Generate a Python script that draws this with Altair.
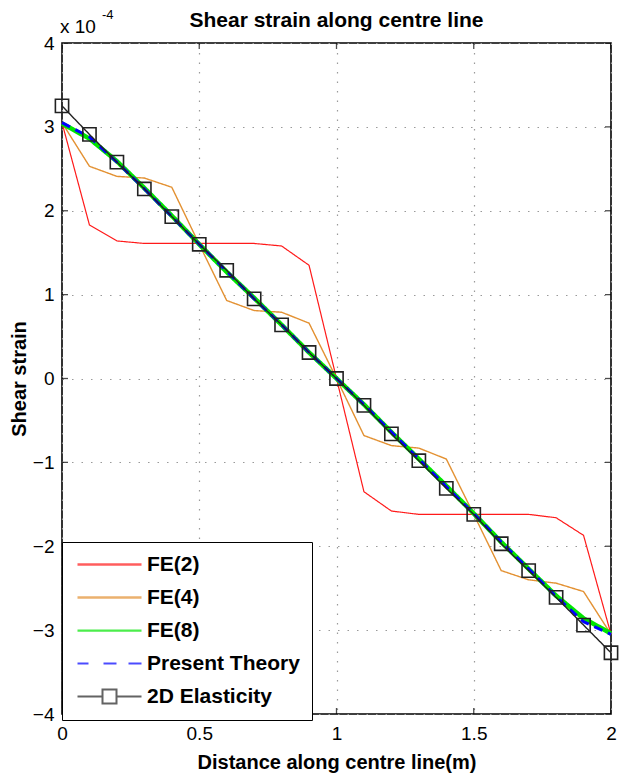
import altair as alt
import pandas as pd

FONT = "Liberation Sans, Arial, Helvetica, sans-serif"

# Positions along the centre line (m)
distance = [0.0, 0.1, 0.2, 0.3, 0.4, 0.5, 0.6, 0.7, 0.8, 0.9, 1.0,
            1.1, 1.2, 1.3, 1.4, 1.5, 1.6, 1.7, 1.8, 1.9, 2.0]

# Shear strain (x 1e-4) for each solution
fe2 = [3.05, 1.83, 1.64, 1.61, 1.61, 1.61, 1.61, 1.61, 1.58, 1.35, 0.0,
       -1.35, -1.58, -1.62, -1.62, -1.62, -1.62, -1.62, -1.66, -1.87, -3.05]
fe4 = [3.05, 2.53, 2.41, 2.39, 2.28, 1.60, 0.93, 0.81, 0.79, 0.66, 0.0,
       -0.68, -0.80, -0.83, -0.96, -1.62, -2.29, -2.40, -2.44, -2.54, -3.05]
fe8 = [3.04, 2.86, 2.59, 2.27, 1.94, 1.60, 1.27, 0.96, 0.64, 0.31, 0.0,
       -0.31, -0.64, -0.96, -1.28, -1.61, -1.95, -2.27, -2.59, -2.86, -3.04]
present = [3.05, 2.88, 2.58, 2.26, 1.93, 1.60, 1.28, 0.95, 0.64, 0.31, 0.0,
           -0.31, -0.64, -0.96, -1.29, -1.61, -1.95, -2.27, -2.60, -2.90, -3.05]
elasticity = [3.25, 2.91, 2.58, 2.26, 1.93, 1.60, 1.29, 0.95, 0.64, 0.31, 0.0,
              -0.32, -0.66, -0.98, -1.31, -1.62, -1.97, -2.29, -2.61, -2.94, -3.27]

series_names = ["FE(2)", "FE(4)", "FE(8)", "Present Theory", "2D Elasticity"]
series_values = [fe2, fe4, fe8, present, elasticity]
series_colors = ["#ff1a1a", "#e39132", "#00e600", "#0000ff", "#222222"]
series_widths = [1.2, 1.4, 4.6, 3.0, 1.4]
legend_widths = [2.5, 2.0, 4.0, 3.5, 2.0]

# Legend glyphs as unit-space paths: plain line, dashed line, line with square
line_path = "M-6.4,0H6.4"
dash_path = "M-6.4,0H-4.2M-1.2,0H1.4M3.8,0H6.4"
square_path = "M-6.4,0H-1.4M1.4,0H6.4M-1.4,-1.4H1.4V1.4H-1.4Z"
legend_paths = [line_path, line_path, line_path, dash_path, square_path]

x_ticks = [0, 0.5, 1, 1.5, 2]
y_ticks = [-4, -3, -2, -1, 0, 1, 2, 3, 4]

rows = []
for name, vals in zip(series_names, series_values):
    for d, v in zip(distance, vals):
        rows.append({"series": name, "distance": d, "strain": v})
df = pd.DataFrame(rows)

x_scale = alt.Scale(domain=[0, 2], nice=False, zero=False)
y_scale = alt.Scale(domain=[-4, 4], nice=False, zero=False)

x_enc = alt.X("distance:Q", scale=x_scale,
              axis=alt.Axis(values=x_ticks, title="Distance along centre line(m)",
                            format="~g"))
y_enc = alt.Y("strain:Q", scale=y_scale,
              axis=alt.Axis(values=y_ticks, title="Shear strain", format="d"))

base = alt.Chart(df)

layers = []
for name, color, width in zip(series_names, series_colors, series_widths):
    dash = [9, 6] if name == "Present Theory" else [1, 0]
    layers.append(
        base.transform_filter(alt.datum.series == name)
        .mark_line(color=color, strokeWidth=width, strokeDash=dash)
        .encode(x=x_enc, y=y_enc, order="distance:Q")
    )

squares = (
    base.transform_filter(alt.datum.series == "2D Elasticity")
    .mark_point(shape="square", filled=False, size=175, strokeWidth=1.6,
                color="#222222", opacity=1)
    .encode(x=x_enc, y=y_enc)
)

# Legend entries: rows without positions, only drive the legend scales
legend_df = pd.DataFrame({"series": series_names,
                          "distance": [None] * 5, "strain": [None] * 5})
legend_layer = (
    alt.Chart(legend_df)
    .mark_point(filled=False)
    .encode(
        x=alt.X("distance:Q", scale=x_scale),
        y=alt.Y("strain:Q", scale=y_scale),
        shape=alt.Shape("series:N",
                        scale=alt.Scale(domain=series_names, range=legend_paths),
                        legend=alt.Legend(
                            title=None, orient="none", legendX=0, legendY=499,
                            labelFont=FONT, labelFontSize=21, labelFontWeight="bold",
                            labelColor="black", symbolSize=100, symbolOffset=25,
                            labelOffset=27, padding=12, rowPadding=11,
                            strokeColor="black", fillColor="white",
                            cornerRadius=0, labelLimit=400)),
        stroke=alt.Stroke("series:N",
                          scale=alt.Scale(domain=series_names, range=series_colors)),
        strokeWidth=alt.StrokeWidth("series:N",
                                    scale=alt.Scale(domain=series_names,
                                                    range=legend_widths)),
    )
)

# Inward tick marks on all four sides of the frame
tick_x_df = pd.DataFrame({"distance": x_ticks})
tick_y_df = pd.DataFrame({"strain": y_ticks})
ticks = []
for yv in (-4, 4):
    ticks.append(alt.Chart(tick_x_df).mark_tick(orient="vertical", size=12,
                                                thickness=1.3, color="black", clip=True)
                 .encode(x=alt.X("distance:Q", scale=x_scale), y=alt.datum(yv)))
for xv in (0, 2):
    ticks.append(alt.Chart(tick_y_df).mark_tick(orient="horizontal", size=12,
                                                thickness=1.3, color="black", clip=True)
                 .encode(y=alt.Y("strain:Q", scale=y_scale), x=alt.datum(xv)))

# Title and axis multiplier above the frame
one = pd.DataFrame({"k": [0]})
title = alt.Chart(one).mark_text(text="Shear strain along centre line", font=FONT,
                                 fontSize=21, fontWeight="bold", align="center",
                                 baseline="alphabetic", color="black").encode(
    x=alt.value(274.5), y=alt.value(-16))
mult = alt.Chart(one).mark_text(text="x 10", font=FONT, fontSize=19, align="left",
                                baseline="alphabetic", color="black").encode(
    x=alt.value(-2), y=alt.value(-10))
mult_exp = alt.Chart(one).mark_text(text="-4", font=FONT, fontSize=13, align="left",
                                    baseline="alphabetic", color="black").encode(
    x=alt.value(40), y=alt.value(-24))

chart = (
    alt.layer(*ticks, *layers, squares, legend_layer, title, mult, mult_exp)
    .properties(
        width=549, height=671,
        autosize=alt.AutoSizeParams(type="none"),
        padding={"left": 62, "top": 43, "right": 8, "bottom": 66},
    )
    .configure_view(stroke="black", strokeWidth=1.6)
    .configure_axis(
        domain=False, ticks=False, grid=True, gridColor="#9a9a9a",
        gridDash=[1.5, 8], gridWidth=1.2, gridOpacity=1,
        labelFont=FONT, labelFontSize=19, labelColor="black",
        titleFont=FONT, titleFontSize=20, titleFontWeight="bold", titleColor="black",
        labelFlush=False,
    )
    .configure_axisX(labelPadding=10, titlePadding=9)
    .configure_axisY(labelPadding=8, titlePadding=3)
)

chart.save("out.html", embed_options={"renderer": "svg", "actions": False})
